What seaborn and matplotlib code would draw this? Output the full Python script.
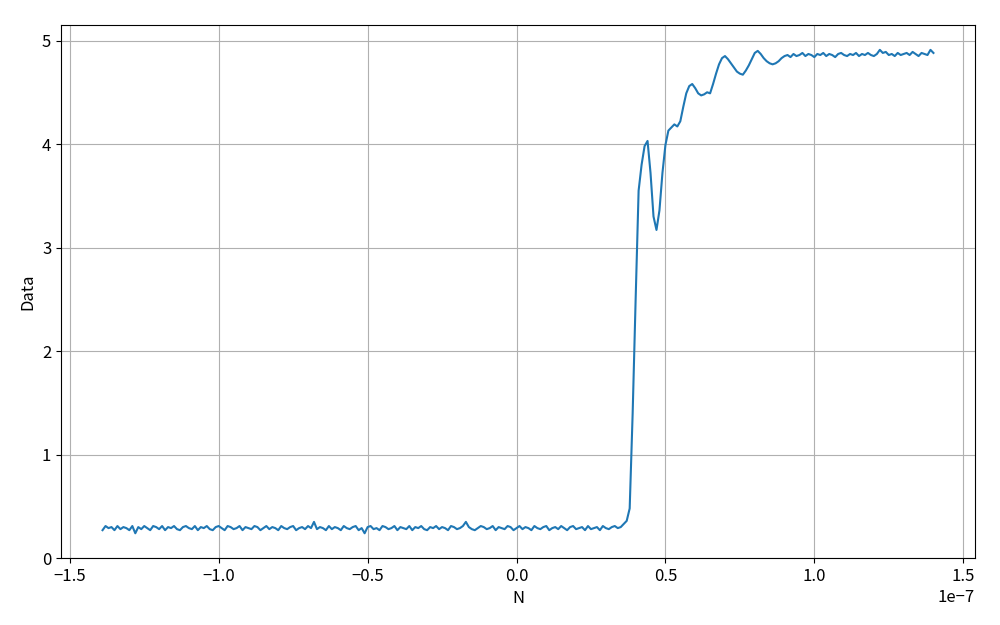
import numpy as np
import pandas as pd
import matplotlib
matplotlib.use("Agg")
import matplotlib.pyplot as plt
import seaborn as sns

# Sample times in ns (1 ns step)
t_start_ns = -139
t_end_ns = 140

baseline = [
    0.27, 0.31, 0.29, 0.30, 0.27, 0.31, 0.28, 0.30, 0.29, 0.27, 0.31, 0.24, 0.30, 0.28, 0.31, 0.29, 0.27, 0.31, 0.30, 0.28,
    0.31, 0.27, 0.30, 0.29, 0.31, 0.28, 0.27, 0.30, 0.31, 0.29, 0.28, 0.31, 0.27, 0.30, 0.29, 0.31, 0.28, 0.27, 0.30, 0.31,
    0.29, 0.27, 0.31, 0.30, 0.28, 0.29, 0.31, 0.27, 0.30, 0.29, 0.28, 0.31, 0.30, 0.27, 0.29, 0.31, 0.28, 0.30, 0.29, 0.27,
    0.31, 0.29, 0.28, 0.30, 0.31, 0.27, 0.29, 0.30, 0.28, 0.31, 0.29, 0.35, 0.28, 0.30, 0.29, 0.27, 0.31, 0.28, 0.30, 0.29,
    0.27, 0.31, 0.29, 0.28, 0.30, 0.31, 0.27, 0.29, 0.24, 0.30, 0.31, 0.28, 0.29, 0.27, 0.31, 0.30, 0.28, 0.29, 0.31, 0.27,
    0.30, 0.29, 0.28, 0.31, 0.27, 0.30, 0.29, 0.31, 0.28, 0.27, 0.30, 0.29, 0.31, 0.28, 0.30, 0.29, 0.27, 0.31, 0.30, 0.28,
    0.29, 0.31, 0.35, 0.30, 0.28, 0.27, 0.29, 0.31, 0.30, 0.28, 0.29, 0.31, 0.27, 0.30, 0.29, 0.28, 0.31, 0.30, 0.27, 0.29,
    0.31, 0.28, 0.30, 0.29, 0.27, 0.31, 0.29, 0.28, 0.30, 0.31, 0.27, 0.29, 0.30, 0.28, 0.31, 0.29, 0.27, 0.30, 0.31, 0.28,
    0.29, 0.30, 0.27, 0.31, 0.28, 0.29, 0.30, 0.27, 0.31, 0.29, 0.28, 0.30, 0.31, 0.29, 0.30, 0.33,
]

# 37 .. 90 ns: edge, overshoot and ringing
edge = [
    0.36, 0.48, 1.40, 2.50, 3.55, 3.80, 3.98, 4.03, 3.72, 3.30,
    3.17, 3.36, 3.72, 3.99, 4.13, 4.16, 4.19, 4.17, 4.22, 4.36,
    4.49, 4.56, 4.58, 4.54, 4.49, 4.47, 4.48, 4.50, 4.49, 4.58,
    4.68, 4.77, 4.83, 4.85, 4.82, 4.78, 4.74, 4.70, 4.68, 4.67,
    4.71, 4.76, 4.82, 4.88, 4.90, 4.87, 4.83, 4.80, 4.78, 4.77,
    4.78, 4.80, 4.83, 4.85,
]

# 91 .. 140 ns: settled level
settled = [
    4.86, 4.84, 4.87, 4.85, 4.86, 4.88, 4.85, 4.87, 4.86, 4.84,
    4.87, 4.86, 4.88, 4.85, 4.87, 4.86, 4.84, 4.87, 4.88, 4.86,
    4.85, 4.87, 4.86, 4.88, 4.85, 4.87, 4.86, 4.88, 4.86, 4.85,
    4.87, 4.91, 4.88, 4.89, 4.86, 4.87, 4.85, 4.88, 4.86, 4.87,
    4.88, 4.86, 4.89, 4.87, 4.85, 4.88, 4.87, 4.86, 4.91, 4.88,
]

values = baseline + edge + settled
t_ns = np.arange(t_start_ns, t_end_ns + 1)
df = pd.DataFrame({"N": t_ns * 1e-9, "Data": values})

plt.rcParams['font.family'] = ['Noto Sans CJK SC', 'DejaVu Sans']
plt.rcParams['axes.unicode_minus'] = True

fig, ax = plt.subplots(figsize=(10, 6.25), dpi=100)
sns.lineplot(data=df, x="N", y="Data", ax=ax, color="#1f77b4", linewidth=1.5)
ax.set_ylim(0, 5.15)
ax.grid(True, color="#b0b0b0", linewidth=0.8)
ax.set_xlabel("N", fontsize=12)
ax.set_ylabel("Data", fontsize=12)
ax.tick_params(labelsize=12)
ax.xaxis.get_offset_text().set_fontsize(12)
plt.subplots_adjust(left=0.061, right=0.975, bottom=0.107, top=0.96)
plt.savefig("out.png", dpi=100)
